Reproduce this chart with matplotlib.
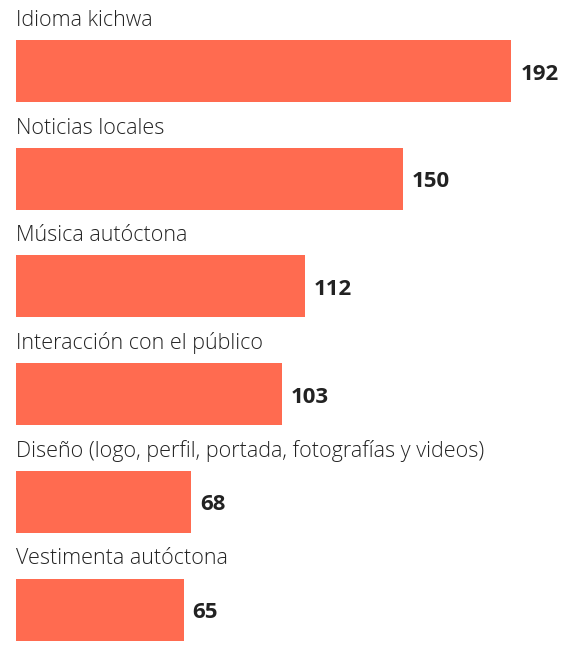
import matplotlib
matplotlib.use("Agg")
import matplotlib.pyplot as plt

categories = ["Idioma kichwa", "Noticias locales", "Música autóctona",
              "Interacción con el público",
              "Diseño (logo, perfil, portada, fotografías y videos)",
              "Vestimenta autóctona"]
values = [192, 150, 112, 103, 68, 65]

fig = plt.figure(figsize=(5.75, 6.53), dpi=100)
ax = fig.add_axes([0, 0, 1, 1])
ax.set_xlim(-6.2, 216.7)
ax.set_ylim(653, 0)
ax.axis("off")
color = "#FF6B50"
for i, (c, v) in enumerate(zip(categories, values)):
    yc = 71 + i * 107.7
    ax.barh(yc, v, height=62, left=0, color=color)
    ax.text(0, yc - 40, c, ha="left", va="bottom", fontsize=15.5,
            family="Open Sans", fontweight="light", color="#222222")
    ax.text(v + 3.5, yc + 3, str(v), ha="left", va="center", fontsize=16,
            family="Open Sans", fontweight="bold", color="#222222")
fig.savefig("out.png", dpi=100)
